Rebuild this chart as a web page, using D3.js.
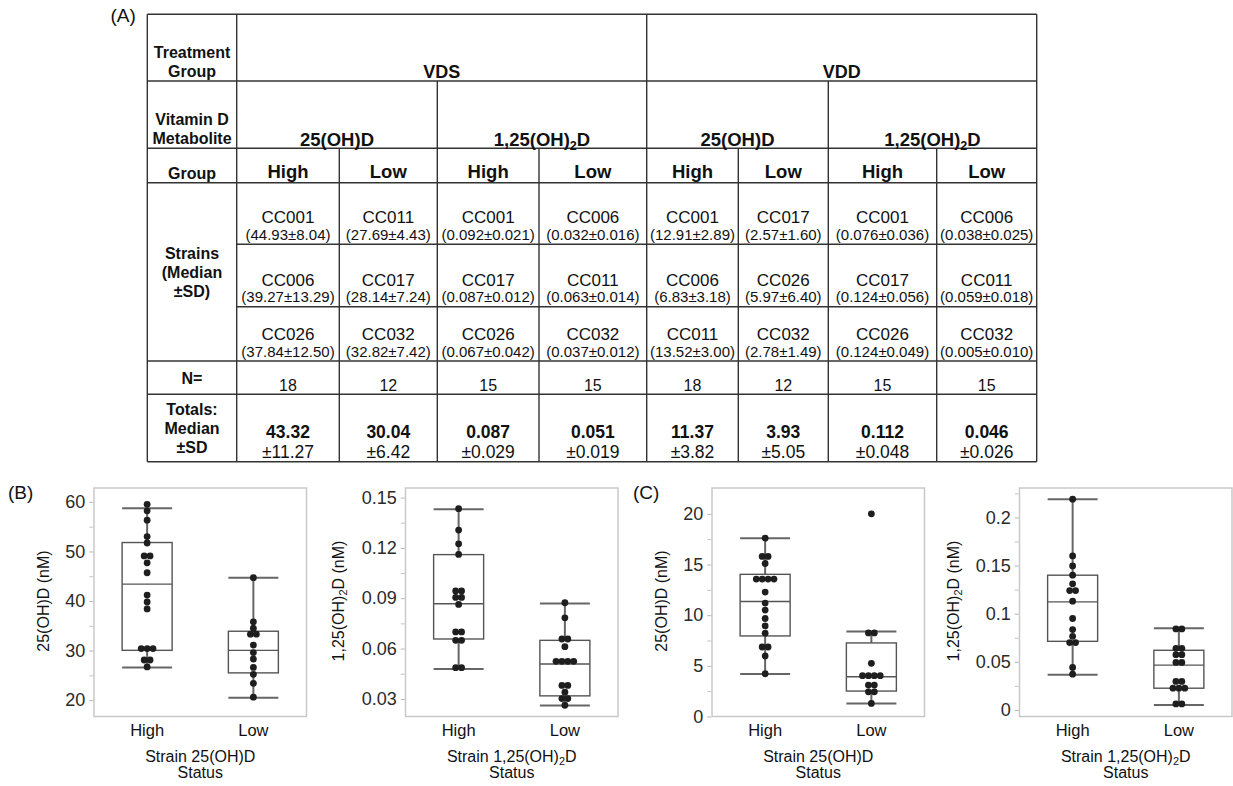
<!DOCTYPE html>
<html>
<head>
<meta charset="utf-8">
<script src="https://cdn.jsdelivr.net/npm/d3@7"></script>
<style>
body { margin: 0; background: #fff; }
svg { display: block; font-family: "Liberation Sans", Arial, sans-serif; }
</style>
</head>
<body>
<script>
// dimensions
var width = 1233;
var height = 786;

// ---- (A) table data ----
var treatments = ["VDS", "VDD"];
var metabolites = ["25(OH)D", "1,25(OH)_2D", "25(OH)D", "1,25(OH)_2D"];
var groups = ["High", "Low"];

// 8 data columns: VDS 25 High, VDS 25 Low, VDS 1,25 High, VDS 1,25 Low, VDD ...
var strainNames = [
    ["CC001", "CC006", "CC026"],
    ["CC011", "CC017", "CC032"],
    ["CC001", "CC017", "CC026"],
    ["CC006", "CC011", "CC032"],
    ["CC001", "CC006", "CC011"],
    ["CC017", "CC026", "CC032"],
    ["CC001", "CC017", "CC026"],
    ["CC006", "CC011", "CC032"]
];
var strainMedian = [
    [44.93, 39.27, 37.84],
    [27.69, 28.14, 32.82],
    [0.092, 0.087, 0.067],
    [0.032, 0.063, 0.037],
    [12.91, 6.83, 13.52],
    [2.57, 5.97, 2.78],
    [0.076, 0.124, 0.124],
    [0.038, 0.059, 0.005]
];
var strainSD = [
    [8.04, 13.29, 12.50],
    [4.43, 7.24, 7.42],
    [0.021, 0.012, 0.042],
    [0.016, 0.014, 0.012],
    [2.89, 3.18, 3.00],
    [1.60, 6.40, 1.49],
    [0.036, 0.056, 0.049],
    [0.025, 0.018, 0.010]
];
var nValues = [18, 12, 15, 15, 18, 12, 15, 15];
var totalMedian = [43.32, 30.04, 0.087, 0.051, 11.37, 3.93, 0.112, 0.046];
var totalSD = [11.27, 6.42, 0.029, 0.019, 3.82, 5.05, 0.048, 0.026];

// ---- (B) VDS box plots ----
var vds25High = [59.5, 58.2, 56.3, 53.0, 51.7, 49.1, 49.1, 47.7, 45.7, 41.2, 39.8, 38.4, 30.4, 30.4, 30.4, 28.1, 28.1, 26.7];
var vds25Low = [44.7, 35.8, 34.5, 33.3, 33.3, 31.1, 29.6, 28.3, 26.6, 25.2, 23.4, 20.6];
// [whisker low, q1, median, q3, whisker high]
var vds25Box = [[26.6, 30.05, 43.4, 51.8, 58.7], [20.5, 25.5, 30.05, 33.9, 44.7]];
var vds25Ticks = [20, 30, 40, 50, 60];
var vds25Minor = [25, 35, 45, 55];

var vds125High = [0.1434, 0.1306, 0.1224, 0.1161, 0.0943, 0.0943, 0.0905, 0.0905, 0.0863, 0.0699, 0.0699, 0.0649, 0.0649, 0.0486, 0.0486];
var vds125Low = [0.0873, 0.0783, 0.0657, 0.0657, 0.0611, 0.0524, 0.0524, 0.0524, 0.0524, 0.0380, 0.0380, 0.0340, 0.0302, 0.0302, 0.0262];
var vds125Box = [[0.0478, 0.0657, 0.0867, 0.116, 0.143], [0.026, 0.0318, 0.0508, 0.0649, 0.0869]];
var vds125Ticks = [0.03, 0.06, 0.09, 0.12, 0.15];
var vds125Minor = [0.045, 0.075, 0.105, 0.135];

// ---- (C) VDD box plots ----
var vdd25High = [17.6, 15.8, 15.8, 15.1, 13.56, 13.56, 13.56, 13.56, 12.28, 11.19, 10.5, 9.67, 8.94, 8.22, 6.86, 6.86, 5.97, 4.22];
var vdd25Low = [20.0, 8.25, 8.25, 5.25, 4.03, 4.03, 4.03, 4.03, 3.1, 3.1, 2.44, 2.44, 1.29];
var vdd25Box = [[4.19, 7.95, 11.35, 14.03, 17.6], [1.29, 2.51, 3.93, 7.26, 8.38]];
var vdd25Ticks = [0, 5, 10, 15, 20];
var vdd25Minor = [2.5, 7.5, 12.5, 17.5];

var vdd125High = [0.219, 0.160, 0.1496, 0.140, 0.131, 0.124, 0.124, 0.113, 0.095, 0.0835, 0.0765, 0.070, 0.070, 0.0442, 0.0372];
var vdd125Low = [0.0842, 0.0842, 0.064, 0.064, 0.0574, 0.0574, 0.0494, 0.0494, 0.0296, 0.0296, 0.0226, 0.0226, 0.0226, 0.0063, 0.0063];
var vdd125Box = [[0.0365, 0.0713, 0.1123, 0.140, 0.219], [0.0052, 0.0226, 0.0466, 0.062, 0.0849]];
var vdd125Ticks = [0, 0.05, 0.1, 0.15, 0.2];
var vdd125Minor = [0.025, 0.075, 0.125, 0.175, 0.225];

// create an svg to draw in
var svg = d3.select("body")
    .append("svg")
    .attr("width", width)
    .attr("height", height);

// text with a subscript 2 where "_2" stands
function chem(sel, str) {
    var parts = str.split("_2");
    sel.append("tspan").text(parts[0]);
    if (parts.length > 1) {
        sel.append("tspan").attr("font-size", "0.68em").attr("dy", "0.32em").text("2");
        sel.append("tspan").attr("dy", "-0.22em").text(parts[1]);
    }
}

// ================= (A) table =================
var colEdges = [147.3, 236.7, 339.3, 437.3, 539, 646.7, 738.3, 828.3, 936.7, 1036.7];
var rowEdges = [14.3, 81, 148.3, 182.7, 244.3, 306.7, 361, 394.3, 461.7];
var cx = d3.scaleLinear().domain(d3.range(colEdges.length)).range(colEdges);
var ry = d3.scaleLinear().domain(d3.range(rowEdges.length)).range(rowEdges);

var table = svg.append("g").attr("class", "table");
var lineColor = "#333";

// grid lines: [x1 col, x2 col, row] and [col, y1 row, y2 row]
var hLines = [[0, 9, 0], [0, 9, 1], [0, 9, 2], [0, 9, 3], [1, 9, 4], [1, 9, 5], [0, 9, 6], [0, 9, 7], [0, 9, 8]];
var vLines = [[0, 0, 8], [1, 0, 8], [5, 0, 8], [9, 0, 8], [3, 1, 8], [7, 1, 8], [2, 2, 8], [4, 2, 8], [6, 2, 8], [8, 2, 8]];

table.selectAll(".hline")
    .data(hLines)
    .enter().append("line")
    .attr("x1", function(d) { return cx(d[0]); })
    .attr("x2", function(d) { return cx(d[1]); })
    .attr("y1", function(d) { return ry(d[2]); })
    .attr("y2", function(d) { return ry(d[2]); })
    .attr("stroke", lineColor)
    .attr("stroke-width", 1.4);

table.selectAll(".vline")
    .data(vLines)
    .enter().append("line")
    .attr("x1", function(d) { return cx(d[0]); })
    .attr("x2", function(d) { return cx(d[0]); })
    .attr("y1", function(d) { return ry(d[1]); })
    .attr("y2", function(d) { return ry(d[2]); })
    .attr("stroke", lineColor)
    .attr("stroke-width", 1.4);

// row labels in the first column
var rowLabels = [
    {lines: ["Treatment", "Group"], r0: 0, r1: 1, bottom: true},
    {lines: ["Vitamin D", "Metabolite"], r0: 1, r1: 2, bottom: true},
    {lines: ["Group"], r0: 2, r1: 3, bottom: true},
    {lines: ["Strains", "(Median", "\u00b1SD)"], r0: 3, r1: 6},
    {lines: ["N="], r0: 6, r1: 7},
    {lines: ["Totals:", "Median", "\u00b1SD"], r0: 7, r1: 8}
];
var lineGap = 19.2;
rowLabels.forEach(function(lab) {
    var n = lab.lines.length;
    var firstBase;
    if (lab.bottom) {
        firstBase = ry(lab.r1) - 4 - (n - 1) * lineGap;
    } else {
        var mid = (ry(lab.r0) + ry(lab.r1)) / 2;
        firstBase = mid + 6 - (n - 1) / 2 * lineGap;
    }
    table.selectAll(null)
        .data(lab.lines)
        .enter().append("text")
        .attr("x", (cx(0) + cx(1)) / 2)
        .attr("y", function(d, i) { return firstBase + i * lineGap; })
        .attr("text-anchor", "middle")
        .attr("font-size", "16px")
        .attr("font-weight", "bold")
        .attr("fill", "#111")
        .text(function(d) { return d; });
});

// treatment headers (span 4 columns)
table.selectAll(".treat")
    .data(treatments)
    .enter().append("text")
    .attr("x", function(d, i) { return (cx(1 + i * 4) + cx(5 + i * 4)) / 2; })
    .attr("y", ry(1) - 3.5)
    .attr("text-anchor", "middle")
    .attr("font-size", "18px")
    .attr("font-weight", "bold")
    .attr("fill", "#111")
    .text(function(d) { return d; });

// metabolite headers (span 2 columns)
table.selectAll(".metab")
    .data(metabolites)
    .enter().append("text")
    .attr("x", function(d, i) { return (cx(1 + i * 2) + cx(3 + i * 2)) / 2; })
    .attr("y", ry(2) - 2.5)
    .attr("text-anchor", "middle")
    .attr("font-size", "18.5px")
    .attr("font-weight", "bold")
    .attr("fill", "#111")
    .each(function(d) { chem(d3.select(this), d); });

// group headers
var colIdx = d3.range(8);
table.selectAll(".grp")
    .data(colIdx)
    .enter().append("text")
    .attr("x", function(c) { return (cx(c + 1) + cx(c + 2)) / 2; })
    .attr("y", ry(3) - 4.5)
    .attr("text-anchor", "middle")
    .attr("font-size", "18.5px")
    .attr("font-weight", "bold")
    .attr("fill", "#111")
    .text(function(c) { return groups[c % 2]; });

function fmtFor(c) {
    return Math.floor(c / 2) % 2 === 0 ? d3.format(".2f") : d3.format(".3f");
}

// strain cells
colIdx.forEach(function(c) {
    var f = fmtFor(c);
    var xm = (cx(c + 1) + cx(c + 2)) / 2;
    strainNames[c].forEach(function(name, r) {
        var yb = ry(4 + r);
        table.append("text")
            .attr("x", xm)
            .attr("y", yb - 21)
            .attr("text-anchor", "middle")
            .attr("font-size", "17px")
            .attr("fill", "#111")
            .text(name);
        table.append("text")
            .attr("x", xm)
            .attr("y", yb - 4.5)
            .attr("text-anchor", "middle")
            .attr("font-size", "15px")
            .attr("fill", "#111")
            .text("(" + f(strainMedian[c][r]) + "\u00b1" + f(strainSD[c][r]) + ")");
    });

    table.append("text")
        .attr("x", xm)
        .attr("y", ry(7) - 3.5)
        .attr("text-anchor", "middle")
        .attr("font-size", "16px")
        .attr("fill", "#111")
        .text(nValues[c]);

    table.append("text")
        .attr("x", xm)
        .attr("y", ry(8) - 23.5)
        .attr("text-anchor", "middle")
        .attr("font-size", "17.5px")
        .attr("font-weight", "bold")
        .attr("fill", "#111")
        .text(f(totalMedian[c]));

    table.append("text")
        .attr("x", xm)
        .attr("y", ry(8) - 3.5)
        .attr("text-anchor", "middle")
        .attr("font-size", "17.5px")
        .attr("fill", "#111")
        .text("\u00b1" + f(totalSD[c]));
});

// panel letters
var letters = [{t: "(A)", x: 110.5, y: 22}, {t: "(B)", x: 8, y: 499}, {t: "(C)", x: 633, y: 499}];
svg.selectAll(".letter")
    .data(letters)
    .enter().append("text")
    .attr("x", function(d) { return d.x; })
    .attr("y", function(d) { return d.y; })
    .attr("font-size", "19px")
    .attr("fill", "#111")
    .text(function(d) { return d.t; });

// ================= (B), (C) box plots =================
var plotTop = 488, plotBottom = 716.5, plotW = 212.5;
var panels = [
    {left: 94, dots: [vds25High, vds25Low], box: vds25Box, domain: [16.7, 62.8], ticks: vds25Ticks, minor: vds25Minor,
     yTitle: "25(OH)D (nM)", xTitle: "Strain 25(OH)D", titleX: 43},
    {left: 405.5, dots: [vds125High, vds125Low], box: vds125Box, domain: [0.0195, 0.1557], ticks: vds125Ticks, minor: vds125Minor,
     yTitle: "1,25(OH)_2D (nM)", xTitle: "Strain 1,25(OH)_2D", titleX: 338},
    {left: 712, dots: [vdd25High, vdd25Low], box: vdd25Box, domain: [0, 22.55], ticks: vdd25Ticks, minor: vdd25Minor,
     yTitle: "25(OH)D (nM)", xTitle: "Strain 25(OH)D", titleX: 661.5},
    {left: 1019.5, dots: [vdd125High, vdd125Low], box: vdd125Box, domain: [-0.0068, 0.2306], ticks: vdd125Ticks, minor: vdd125Minor,
     yTitle: "1,25(OH)_2D (nM)", xTitle: "Strain 1,25(OH)_2D", titleX: 953}
];

var boxW = 50, dotR = 3.4, dotStep = 5.9;

panels.forEach(function(p) {
    var g = svg.append("g");
    var x = d3.scalePoint().domain(groups).range([p.left, p.left + plotW]).padding(0.5);
    var y = d3.scaleLinear().domain(p.domain).range([plotBottom, plotTop]);

    // frame
    g.append("rect")
        .attr("x", p.left)
        .attr("y", plotTop)
        .attr("width", plotW)
        .attr("height", plotBottom - plotTop)
        .attr("fill", "none")
        .attr("stroke", "#c9c9c9")
        .attr("stroke-width", 1.5);

    // y axis
    var axis = d3.axisLeft(y)
        .tickValues(p.ticks)
        .tickSize(4)
        .tickPadding(4)
        .tickFormat(function(d) { return String(d); });
    var ax = g.append("g")
        .attr("transform", "translate(" + (p.left - 0.75) + ",0)")
        .call(axis);
    ax.select(".domain").remove();
    ax.selectAll(".tick line").attr("stroke", "#b5b5b5");
    ax.selectAll(".tick text")
        .attr("font-size", "18px")
        .attr("font-family", "Liberation Sans, Arial, sans-serif")
        .attr("fill", "#2a2a2a");

    var minorAxis = d3.axisLeft(y).tickValues(p.minor).tickSize(4).tickFormat("");
    var mx = g.append("g")
        .attr("transform", "translate(" + (p.left - 0.75) + ",0)")
        .call(minorAxis);
    mx.select(".domain").remove();
    mx.selectAll(".tick line").attr("stroke", "#c4c4c4");

    // boxes
    groups.forEach(function(grp, gi) {
        var b = p.box[gi];
        var xc = x(grp);
        // whisker stem
        g.append("line")
            .attr("x1", xc).attr("x2", xc)
            .attr("y1", y(b[0])).attr("y2", y(b[4]))
            .attr("stroke", "#666").attr("stroke-width", 2);
        // caps
        [b[0], b[4]].forEach(function(v) {
            g.append("line")
                .attr("x1", xc - boxW / 2).attr("x2", xc + boxW / 2)
                .attr("y1", y(v)).attr("y2", y(v))
                .attr("stroke", "#666").attr("stroke-width", 2);
        });
        g.append("rect")
            .attr("x", xc - boxW / 2)
            .attr("y", y(b[3]))
            .attr("width", boxW)
            .attr("height", y(b[1]) - y(b[3]))
            .attr("fill", "#fff")
            .attr("stroke", "#555")
            .attr("stroke-width", 1.4);
        g.append("line")
            .attr("x1", xc - boxW / 2).attr("x2", xc + boxW / 2)
            .attr("y1", y(b[2])).attr("y2", y(b[2]))
            .attr("stroke", "#555").attr("stroke-width", 1.4);

        // dots, side by side where values repeat
        var counts = d3.rollup(p.dots[gi], function(v) { return v.length; }, function(d) { return d; });
        var seen = new Map();
        var pts = p.dots[gi].map(function(v) {
            var k = seen.get(v) || 0;
            seen.set(v, k + 1);
            var n = counts.get(v);
            return {v: v, off: (k - (n - 1) / 2) * dotStep};
        });
        g.selectAll(null)
            .data(pts)
            .enter().append("circle")
            .attr("cx", function(d) { return xc + d.off; })
            .attr("cy", function(d) { return y(d.v); })
            .attr("r", dotR)
            .attr("fill", "#1e1e1e");

        // category label
        g.append("text")
            .attr("x", xc)
            .attr("y", 736)
            .attr("text-anchor", "middle")
            .attr("font-size", "16.5px")
            .attr("fill", "#111")
            .text(grp);
    });

    // axis titles
    var midX = p.left + plotW / 2;
    g.append("text")
        .attr("x", midX)
        .attr("y", 762)
        .attr("text-anchor", "middle")
        .attr("font-size", "16px")
        .attr("fill", "#111")
        .each(function() { chem(d3.select(this), p.xTitle); });
    g.append("text")
        .attr("x", midX)
        .attr("y", 778)
        .attr("text-anchor", "middle")
        .attr("font-size", "16px")
        .attr("fill", "#111")
        .text("Status");

    g.append("text")
        .attr("transform", "translate(" + p.titleX + "," + 601 + ") rotate(-90)")
        .attr("text-anchor", "middle")
        .attr("dy", "0.35em")
        .attr("font-size", "16px")
        .attr("fill", "#111")
        .each(function() { chem(d3.select(this), p.yTitle); });
});
</script>
</body>
</html>
